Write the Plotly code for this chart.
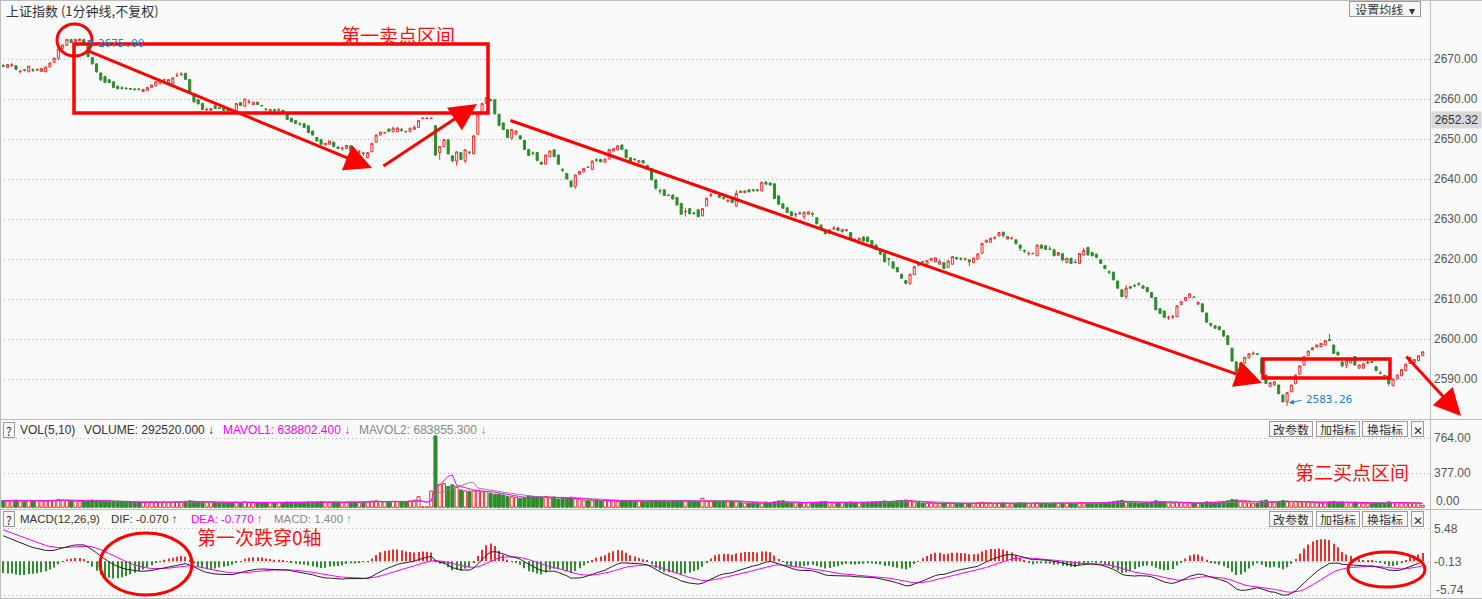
import plotly.graph_objects as go
import pandas as pd

W, H = 1482, 599

# ---------------- DATA ----------------
# previous trading day tail (102 one-minute bars)
prev_open = [
    2668.3, 2667.9, 2668.4, 2668.3, 2666.8, 2667.3, 2666.8, 2667.3, 2667.2, 2666.9,
    2666.8, 2668.0, 2669.1, 2670.2, 2672.7, 2673.4, 2674.9, 2674.3, 2674.6, 2674.9,
    2674.0, 2670.4, 2668.8, 2666.5, 2665.6, 2664.8, 2664.3, 2663.2, 2662.8, 2662.7,
    2662.6, 2662.5, 2662.5, 2661.9, 2662.2, 2662.9, 2663.3, 2663.8, 2664.7, 2664.1,
    2663.9, 2665.8, 2666.1, 2666.4, 2664.9, 2661.0, 2659.8, 2658.9, 2657.3, 2657.2,
    2658.3, 2657.8, 2657.6, 2657.3, 2657.3, 2657.1, 2659.1, 2658.2, 2659.2, 2658.6,
    2659.2, 2658.4, 2657.5, 2657.0, 2657.4, 2657.2, 2657.2, 2656.3, 2655.2, 2654.6,
    2653.8, 2653.8, 2653.3, 2652.0, 2650.4, 2649.9, 2648.5, 2648.7, 2649.2, 2648.0,
    2647.6, 2647.6, 2648.3, 2647.1, 2646.7, 2646.5, 2645.3, 2646.8, 2649.2, 2651.0,
    2651.5, 2652.5, 2651.8, 2651.8, 2652.3, 2651.9, 2651.8, 2652.4, 2652.9, 2655.1,
    2655.1, 2655.1]
prev_close = [
    2668.2, 2668.6, 2668.5, 2667.4, 2666.9, 2667.2, 2668.2, 2667.2, 2667.4, 2667.6,
    2668.0, 2669.0, 2670.2, 2672.5, 2673.5, 2674.9, 2674.1, 2674.9, 2675.0, 2674.1,
    2670.6, 2668.8, 2666.8, 2664.8, 2664.1, 2664.1, 2662.9, 2662.6, 2662.7, 2662.6,
    2662.5, 2662.4, 2662.4, 2662.4, 2662.9, 2663.5, 2664.3, 2664.6, 2664.8, 2664.9,
    2665.3, 2665.9, 2666.2, 2664.9, 2661.8, 2659.3, 2658.8, 2657.4, 2657.4, 2657.6,
    2657.6, 2657.7, 2657.1, 2657.1, 2657.1, 2658.9, 2658.4, 2660.0, 2659.3, 2659.2,
    2658.6, 2658.3, 2657.4, 2657.4, 2657.0, 2657.3, 2656.6, 2654.9, 2654.3, 2653.9,
    2653.7, 2652.9, 2651.6, 2651.0, 2649.5, 2648.7, 2648.9, 2649.5, 2648.1, 2647.6,
    2647.7, 2648.4, 2647.1, 2646.0, 2646.8, 2646.4, 2646.6, 2648.9, 2651.0, 2651.7,
    2651.6, 2651.9, 2652.7, 2652.7, 2652.2, 2651.8, 2652.7, 2652.9, 2654.6, 2655.2,
    2655.2, 2655.2]
prev_high = [
    2668.8, 2668.7, 2669.0, 2668.4, 2667.3, 2667.5, 2668.3, 2667.7, 2667.6, 2667.7,
    2668.1, 2669.1, 2670.4, 2672.6, 2673.6, 2675.0, 2675.0, 2675.0, 2675.0, 2675.0,
    2674.1, 2670.5, 2668.9, 2666.6, 2665.8, 2664.9, 2664.4, 2663.3, 2663.2, 2662.9,
    2662.7, 2662.8, 2662.6, 2662.5, 2663.0, 2663.6, 2664.4, 2664.7, 2665.1, 2665.0,
    2665.4, 2666.6, 2666.8, 2666.6, 2665.0, 2661.1, 2659.9, 2659.0, 2657.9, 2657.8,
    2658.4, 2657.9, 2657.7, 2657.4, 2657.5, 2659.0, 2659.2, 2660.1, 2659.9, 2659.3,
    2659.3, 2658.5, 2657.7, 2657.5, 2657.5, 2657.7, 2657.3, 2656.4, 2655.3, 2654.7,
    2654.2, 2653.9, 2653.4, 2652.1, 2650.5, 2650.0, 2649.0, 2649.6, 2649.3, 2648.1,
    2648.1, 2648.5, 2648.4, 2647.2, 2647.3, 2646.8, 2646.7, 2649.0, 2651.1, 2651.8,
    2651.7, 2652.6, 2653.1, 2653.0, 2652.8, 2652.0, 2652.8, 2653.4, 2654.7, 2655.2,
    2655.2, 2655.2]
prev_low = [
    2668.0, 2667.8, 2667.9, 2667.2, 2666.4, 2666.9, 2666.7, 2666.7, 2667.1, 2666.8,
    2666.7, 2667.9, 2669.0, 2669.7, 2672.5, 2673.3, 2674.0, 2674.2, 2674.5, 2673.9,
    2670.4, 2668.6, 2666.6, 2664.5, 2664.0, 2664.0, 2662.7, 2662.3, 2662.3, 2662.4,
    2662.3, 2662.1, 2662.1, 2661.8, 2662.1, 2662.8, 2663.2, 2663.7, 2664.4, 2664.0,
    2663.8, 2665.6, 2665.9, 2664.8, 2661.6, 2659.1, 2658.6, 2657.2, 2657.0, 2657.0,
    2657.5, 2657.5, 2657.0, 2656.9, 2656.9, 2657.0, 2658.3, 2658.1, 2658.8, 2658.5,
    2658.5, 2658.2, 2656.9, 2656.7, 2656.9, 2656.8, 2656.5, 2654.8, 2654.2, 2653.8,
    2653.3, 2652.8, 2651.5, 2650.9, 2649.4, 2648.6, 2648.4, 2648.6, 2647.9, 2647.5,
    2647.1, 2647.5, 2647.0, 2645.9, 2646.3, 2645.8, 2645.2, 2646.7, 2649.1, 2650.9,
    2651.4, 2651.8, 2651.7, 2651.7, 2651.8, 2651.7, 2651.7, 2652.3, 2652.8, 2655.1,
    2655.1, 2655.1]
prev_vol = [
    75, 68, 72, 80, 70, 66, 74, 70, 72, 68,
    70, 75, 78, 88, 82, 80, 72, 70, 66, 64,
    78, 80, 76, 70, 68, 64, 62, 60, 58, 56,
    58, 55, 54, 56, 58, 60, 62, 58, 60, 56,
    58, 62, 60, 66, 72, 68, 64, 62, 58, 55,
    56, 54, 52, 54, 50, 58, 55, 60, 56, 54,
    52, 50, 52, 50, 48, 50, 52, 58, 56, 55,
    52, 56, 60, 58, 60, 62, 58, 56, 58, 55,
    52, 56, 58, 60, 55, 58, 62, 68, 72, 66,
    60, 62, 66, 64, 60, 62, 70, 78, 118, 5,
    5, 180]

# current trading day (234 one-minute bars)
day_open = [
    2653.3, 2646.6, 2648.1, 2649.8, 2645.8, 2644.5, 2646.6, 2644.6, 2646.7, 2646.3,
    2651.2, 2656.6, 2658.9, 2659.8, 2659.8, 2656.2, 2654.0, 2652.3, 2650.2, 2651.2,
    2650.8, 2649.6, 2647.4, 2646.5, 2646.6, 2644.2, 2643.7, 2645.6, 2647.3, 2646.0,
    2642.3, 2641.4, 2639.5, 2638.1, 2641.2, 2641.8, 2643.0, 2642.4, 2644.8, 2644.9,
    2644.2, 2645.0, 2647.0, 2647.3, 2648.5, 2647.3, 2645.3, 2645.0, 2644.2, 2644.6,
    2643.4, 2642.6, 2639.8, 2637.1, 2637.3, 2636.0, 2636.0, 2635.4, 2633.9, 2631.8,
    2632.6, 2631.5, 2632.3, 2630.8, 2633.3, 2635.9, 2636.7, 2636.0, 2635.3, 2634.5,
    2634.8, 2633.3, 2637.0, 2636.6, 2637.3, 2637.3, 2637.3, 2637.0, 2639.2, 2639.0,
    2638.8, 2635.8, 2633.8, 2632.8, 2631.8, 2631.1, 2631.5, 2630.6, 2631.2, 2631.3,
    2630.3, 2628.5, 2627.4, 2626.4, 2627.6, 2627.8, 2626.8, 2627.3, 2626.6, 2624.8,
    2623.9, 2625.5, 2625.5, 2624.6, 2623.5, 2622.3, 2621.4, 2620.1, 2619.3, 2617.9,
    2616.2, 2614.6, 2613.9, 2616.1, 2618.6, 2619.4, 2618.7, 2619.7, 2619.3, 2618.7,
    2619.1, 2617.9, 2618.7, 2620.4, 2620.1, 2619.9, 2619.8, 2619.1, 2620.0, 2621.4,
    2624.2, 2624.2, 2625.2, 2625.8, 2626.7, 2625.0, 2625.1, 2624.8, 2623.5, 2622.1,
    2621.3, 2621.3, 2620.8, 2623.5, 2623.3, 2622.5, 2622.3, 2620.9, 2621.3, 2619.1,
    2620.2, 2619.2, 2618.9, 2621.0, 2622.9, 2621.6, 2621.2, 2619.8, 2618.4, 2616.8,
    2616.7, 2614.5, 2612.3, 2610.6, 2613.1, 2613.4, 2613.8, 2613.3, 2612.9, 2611.6,
    2610.4, 2607.6, 2607.0, 2605.3, 2605.5, 2605.6, 2608.6, 2609.6, 2610.4, 2610.5,
    2608.7, 2608.8, 2606.5, 2603.9, 2603.3, 2603.1, 2602.1, 2600.8, 2597.7, 2594.3,
    2591.2, 2594.0, 2595.3, 2596.3, 2596.3, 2595.2, 2591.0, 2588.1, 2588.5, 2588.5,
    2586.0, 2584.3, 2586.8, 2588.8, 2591.2, 2593.5, 2595.8, 2597.3, 2598.0, 2598.1,
    2598.5, 2599.9, 2598.5, 2596.7, 2594.3, 2593.5, 2594.0, 2595.6, 2592.7, 2592.7,
    2594.0, 2594.3, 2593.1, 2591.5, 2590.9, 2590.8, 2588.3, 2590.0, 2590.8, 2592.1,
    2593.9, 2594.1, 2594.6, 2595.8]
day_close = [
    2646.0, 2648.1, 2649.9, 2646.3, 2644.5, 2646.8, 2644.9, 2647.3, 2646.6, 2650.8,
    2656.0, 2658.9, 2660.3, 2659.7, 2656.3, 2653.4, 2652.4, 2650.4, 2652.4, 2652.0,
    2650.0, 2647.4, 2645.9, 2646.4, 2644.6, 2643.7, 2646.0, 2647.0, 2645.6, 2643.7,
    2642.2, 2640.0, 2638.1, 2641.0, 2641.9, 2642.6, 2642.9, 2644.5, 2644.7, 2644.3,
    2645.0, 2647.4, 2647.6, 2648.3, 2647.4, 2645.3, 2644.5, 2644.9, 2644.6, 2644.0,
    2643.0, 2639.8, 2637.7, 2637.0, 2635.9, 2635.9, 2635.0, 2633.5, 2631.2, 2631.9,
    2631.3, 2631.4, 2630.6, 2632.6, 2635.2, 2636.0, 2636.6, 2635.4, 2635.2, 2634.6,
    2634.1, 2636.4, 2636.6, 2637.0, 2636.8, 2637.2, 2637.2, 2639.2, 2638.7, 2638.5,
    2635.1, 2633.7, 2632.7, 2631.6, 2630.8, 2631.2, 2631.4, 2631.7, 2631.8, 2631.2,
    2628.8, 2627.5, 2626.3, 2627.3, 2627.7, 2627.1, 2627.4, 2627.2, 2625.2, 2624.7,
    2625.2, 2624.5, 2624.3, 2623.1, 2622.4, 2621.2, 2619.3, 2620.0, 2617.7, 2616.8,
    2615.2, 2613.9, 2616.2, 2618.1, 2618.5, 2619.3, 2619.6, 2620.1, 2620.3, 2619.3,
    2617.6, 2619.5, 2620.6, 2620.0, 2620.0, 2620.0, 2619.3, 2620.2, 2621.3, 2623.9,
    2624.7, 2625.2, 2625.3, 2626.6, 2625.9, 2625.6, 2625.2, 2623.8, 2622.7, 2622.0,
    2621.4, 2621.4, 2623.5, 2622.7, 2622.4, 2622.4, 2620.8, 2621.6, 2619.8, 2620.2,
    2618.9, 2619.1, 2621.4, 2622.1, 2621.0, 2620.8, 2620.4, 2618.9, 2617.6, 2616.7,
    2614.8, 2612.7, 2610.6, 2612.7, 2612.7, 2613.3, 2613.7, 2612.7, 2611.8, 2610.4,
    2607.3, 2606.4, 2605.4, 2605.4, 2605.6, 2608.3, 2609.3, 2610.4, 2611.3, 2610.4,
    2609.2, 2606.8, 2604.2, 2603.5, 2602.7, 2602.3, 2600.7, 2598.6, 2594.5, 2591.8,
    2594.0, 2595.4, 2596.3, 2596.4, 2596.2, 2591.4, 2588.9, 2589.1, 2589.3, 2586.3,
    2584.3, 2586.6, 2588.5, 2591.0, 2593.3, 2595.6, 2597.0, 2597.8, 2598.5, 2598.9,
    2599.6, 2599.6, 2596.4, 2596.0, 2593.3, 2594.5, 2595.0, 2593.5, 2593.5, 2593.8,
    2594.1, 2594.2, 2592.1, 2591.4, 2590.8, 2588.9, 2590.0, 2591.0, 2592.4, 2593.7,
    2595.4, 2594.9, 2595.8, 2596.8]
day_high = [
    2653.5, 2648.2, 2650.0, 2649.9, 2645.9, 2646.9, 2646.7, 2647.4, 2647.0, 2650.9,
    2656.1, 2659.0, 2660.5, 2660.1, 2659.9, 2656.3, 2654.1, 2652.4, 2652.5, 2652.1,
    2650.9, 2649.7, 2647.5, 2646.9, 2646.7, 2644.3, 2646.1, 2647.1, 2647.4, 2646.1,
    2642.8, 2641.5, 2639.6, 2641.1, 2642.0, 2642.7, 2643.1, 2644.6, 2645.2, 2645.0,
    2645.1, 2647.5, 2647.7, 2648.4, 2648.6, 2647.4, 2645.4, 2645.1, 2644.7, 2644.7,
    2643.5, 2642.7, 2639.9, 2637.6, 2637.4, 2636.1, 2636.1, 2635.5, 2634.0, 2632.7,
    2632.7, 2631.8, 2632.4, 2632.7, 2635.3, 2636.6, 2637.1, 2636.1, 2635.6, 2635.0,
    2634.9, 2637.2, 2637.1, 2637.1, 2637.4, 2637.5, 2637.5, 2639.3, 2639.5, 2639.1,
    2638.9, 2635.9, 2633.9, 2632.9, 2631.9, 2631.6, 2631.9, 2631.8, 2631.9, 2631.8,
    2630.4, 2628.6, 2627.5, 2627.4, 2628.2, 2627.9, 2627.5, 2627.4, 2626.7, 2625.3,
    2625.3, 2625.6, 2625.6, 2624.7, 2623.6, 2622.4, 2621.5, 2620.2, 2619.4, 2618.0,
    2616.3, 2614.7, 2616.3, 2618.2, 2619.0, 2619.5, 2619.7, 2620.3, 2620.4, 2619.9,
    2619.2, 2619.6, 2620.7, 2620.5, 2620.4, 2620.4, 2619.9, 2620.3, 2621.4, 2624.0,
    2624.8, 2625.3, 2625.7, 2626.7, 2626.8, 2625.7, 2625.5, 2624.9, 2623.6, 2622.4,
    2621.9, 2621.5, 2623.6, 2623.6, 2623.4, 2623.3, 2622.4, 2621.7, 2621.4, 2620.3,
    2620.3, 2619.9, 2621.5, 2622.8, 2623.0, 2621.7, 2621.3, 2619.9, 2618.5, 2617.2,
    2616.8, 2614.6, 2612.4, 2613.5, 2613.2, 2613.8, 2614.2, 2613.4, 2613.0, 2611.7,
    2610.5, 2607.7, 2607.1, 2605.9, 2606.1, 2608.4, 2609.4, 2610.5, 2611.4, 2610.6,
    2609.3, 2608.9, 2606.6, 2604.0, 2603.4, 2603.2, 2602.2, 2600.9, 2597.8, 2594.4,
    2594.1, 2595.5, 2596.4, 2596.9, 2596.4, 2595.3, 2591.1, 2589.2, 2589.4, 2588.6,
    2586.1, 2586.7, 2588.6, 2591.1, 2593.4, 2595.7, 2597.1, 2597.9, 2598.6, 2599.0,
    2599.7, 2601.3, 2598.6, 2596.8, 2594.4, 2594.8, 2595.1, 2595.7, 2593.6, 2593.9,
    2594.6, 2594.6, 2593.2, 2592.0, 2591.0, 2590.9, 2590.1, 2591.1, 2592.5, 2593.8,
    2595.5, 2595.0, 2595.9, 2596.9]
day_low = [
    2645.8, 2644.8, 2648.0, 2646.1, 2644.3, 2643.3, 2644.7, 2643.9, 2646.2, 2646.2,
    2651.1, 2656.5, 2658.8, 2659.3, 2656.1, 2653.2, 2652.3, 2650.3, 2649.8, 2651.1,
    2649.9, 2647.3, 2645.8, 2645.9, 2644.5, 2643.6, 2643.6, 2645.5, 2645.5, 2643.6,
    2641.8, 2639.9, 2637.8, 2637.6, 2641.1, 2641.7, 2642.8, 2642.3, 2644.3, 2644.2,
    2644.1, 2644.9, 2646.9, 2647.2, 2647.3, 2645.2, 2644.4, 2644.5, 2644.1, 2643.9,
    2642.9, 2639.7, 2637.3, 2636.2, 2635.8, 2635.8, 2634.9, 2633.4, 2631.1, 2630.6,
    2631.2, 2631.0, 2630.4, 2630.7, 2633.2, 2635.4, 2636.2, 2635.3, 2634.8, 2634.1,
    2634.0, 2633.0, 2636.5, 2636.5, 2636.7, 2636.8, 2636.8, 2636.9, 2638.6, 2638.4,
    2635.0, 2633.6, 2632.6, 2631.5, 2630.7, 2630.4, 2631.0, 2630.0, 2631.1, 2630.6,
    2628.7, 2627.4, 2626.2, 2626.3, 2627.2, 2627.0, 2626.7, 2626.8, 2625.1, 2624.2,
    2623.8, 2624.4, 2624.2, 2623.0, 2622.3, 2621.1, 2619.2, 2618.3, 2617.6, 2616.7,
    2615.1, 2613.7, 2613.5, 2616.0, 2618.1, 2618.7, 2618.6, 2619.6, 2619.2, 2618.6,
    2617.5, 2617.8, 2618.6, 2619.9, 2619.6, 2619.6, 2618.2, 2619.0, 2619.9, 2621.3,
    2624.1, 2624.1, 2624.9, 2625.7, 2625.4, 2624.9, 2624.9, 2623.7, 2622.0, 2621.5,
    2620.9, 2621.3, 2620.7, 2622.6, 2622.3, 2622.3, 2620.7, 2620.8, 2619.4, 2619.0,
    2618.8, 2619.0, 2618.8, 2620.9, 2620.9, 2620.7, 2620.3, 2618.8, 2617.5, 2616.2,
    2614.7, 2612.6, 2610.5, 2610.0, 2612.6, 2612.9, 2613.3, 2612.6, 2611.7, 2610.3,
    2607.2, 2606.3, 2605.3, 2604.8, 2605.0, 2605.5, 2608.5, 2609.5, 2610.3, 2610.3,
    2608.6, 2606.7, 2604.0, 2603.0, 2602.6, 2602.2, 2600.6, 2598.5, 2594.4, 2591.6,
    2591.1, 2593.9, 2595.2, 2596.0, 2596.1, 2591.3, 2588.8, 2588.0, 2588.4, 2586.2,
    2584.2, 2583.26, 2586.7, 2588.7, 2591.1, 2593.4, 2595.7, 2597.2, 2597.9, 2598.0,
    2598.4, 2599.5, 2596.3, 2595.9, 2592.9, 2592.7, 2593.9, 2593.4, 2592.6, 2592.6,
    2593.7, 2593.9, 2592.0, 2591.3, 2590.7, 2588.2, 2588.2, 2589.9, 2590.7, 2592.0,
    2593.8, 2594.0, 2594.5, 2595.7]
day_vol = [
    790, 255, 262, 230, 248, 220, 192, 182, 178, 182,
    190, 172, 175, 155, 145, 145, 136, 118, 118, 112,
    100, 107, 125, 118, 112, 110, 120, 104, 112, 92,
    100, 102, 112, 100, 90, 80, 74, 72, 82, 70,
    74, 72, 70, 64, 74, 70, 76, 70, 70, 68,
    64, 72, 76, 70, 72, 68, 74, 74, 76, 70,
    74, 68, 64, 100, 70, 68, 74, 68, 70, 72,
    64, 66, 56, 46, 44, 44, 46, 50, 55, 44,
    60, 70, 72, 58, 55, 52, 46, 50, 52, 48,
    56, 62, 64, 52, 48, 46, 50, 48, 58, 52,
    48, 54, 56, 60, 62, 64, 70, 62, 66, 72,
    76, 80, 70, 60, 52, 48, 44, 46, 44, 42,
    50, 46, 48, 44, 42, 40, 44, 46, 50, 56,
    52, 48, 44, 48, 50, 44, 40, 46, 50, 48,
    42, 40, 50, 46, 44, 40, 48, 42, 46, 44,
    46, 40, 52, 50, 48, 46, 44, 50, 54, 58,
    62, 70, 76, 66, 58, 50, 46, 48, 54, 60,
    72, 66, 62, 50, 46, 56, 52, 48, 46, 42,
    44, 52, 60, 58, 56, 60, 64, 72, 84, 82,
    70, 56, 50, 46, 42, 72, 80, 60, 52, 66,
    74, 70, 62, 60, 58, 62, 56, 52, 48, 46,
    50, 62, 66, 58, 60, 52, 48, 56, 46, 44,
    42, 44, 50, 48, 46, 60, 54, 50, 48, 46,
    50, 44, 48, 22]

# indicator state carried in from before the first visible bar
ema12_start, ema26_start, dea_start = 2668.2, 2663.6, 5.5

price_ticks = [2590, 2600, 2610, 2620, 2630, 2640, 2650, 2660, 2670]
vol_ticks = [377, 764]
macd_ticks = [5.48, -0.13]

# ---------------- derived series ----------------
opens = prev_open + day_open
closes = prev_close + day_close
highs = prev_high + day_high
lows = prev_low + day_low
vols = prev_vol + day_vol
N = len(closes)
x = list(range(N))

ma5 = pd.Series(vols).rolling(5, min_periods=1).mean().tolist()
ma10 = pd.Series(vols).rolling(10, min_periods=1).mean().tolist()

e12, e26, dea = ema12_start, ema26_start, dea_start
difs, deas, hist = [], [], []
for c in closes:
    e12 = e12 * 11 / 13 + c * 2 / 13
    e26 = e26 * 25 / 27 + c * 2 / 27
    d = e12 - e26
    dea = dea * 8 / 10 + d * 2 / 10
    difs.append(d)
    deas.append(dea)
    hist.append(2 * (d - dea))

RED = "#ee2c2c"
GREEN = "#2e8b2e"
BG = "#fafafa"
GRID = "#b4b4b4"
MAG = "#ff00ff"
up = [c >= o for o, c in zip(opens, closes)]

fig = go.Figure()
fig.add_trace(go.Candlestick(
    x=x, open=opens, high=highs, low=lows, close=closes,
    increasing=dict(line=dict(color=RED, width=1), fillcolor=BG),
    decreasing=dict(line=dict(color=GREEN, width=1), fillcolor=GREEN),
    whiskerwidth=0, showlegend=False, hoverinfo="skip", yaxis="y"))

fig.add_trace(go.Bar(
    x=x, y=vols, width=0.72, yaxis="y2", showlegend=False, hoverinfo="skip",
    marker=dict(color=[BG if u else GREEN for u in up],
                line=dict(color=[RED if u else GREEN for u in up], width=1))))
fig.add_trace(go.Scatter(x=x, y=ma10, yaxis="y2", mode="lines",
                         line=dict(color="#8c8c8c", width=1), showlegend=False, hoverinfo="skip"))
fig.add_trace(go.Scatter(x=x, y=ma5, yaxis="y2", mode="lines",
                         line=dict(color=MAG, width=1), showlegend=False, hoverinfo="skip"))

fig.add_trace(go.Bar(
    x=x, y=hist, width=0.24, yaxis="y3", showlegend=False, hoverinfo="skip",
    marker=dict(color=[RED if h >= 0 else GREEN for h in hist], line=dict(width=0))))
fig.add_trace(go.Scatter(x=x, y=deas, yaxis="y3", mode="lines",
                         line=dict(color=MAG, width=1), showlegend=False, hoverinfo="skip"))
fig.add_trace(go.Scatter(x=x, y=difs, yaxis="y3", mode="lines",
                         line=dict(color="#222222", width=1), showlegend=False, hoverinfo="skip"))

# ---------------- layout ----------------
def PX(px):
    return px / W

def PY(py):
    return 1 - py / H

SPACING = 4.237  # px per bar
X0 = 3.3        # px position of first bar
xr = [-X0 / SPACING, (1430 - X0) / SPACING]

tickfont = dict(family="Liberation Sans, Arial", size=12, color="#555555")
axis_common = dict(side="right", anchor="x", showgrid=True, gridcolor=GRID, griddash="1px,3px",
                   gridwidth=1, zeroline=False, showline=False, ticks="",
                   tickfont=tickfont, ticklabelstandoff=3, fixedrange=True)

fig.update_layout(
    width=W, height=H, autosize=False,
    margin=dict(l=0, r=0, t=0, b=0),
    paper_bgcolor=BG, plot_bgcolor=BG,
    barmode="overlay", boxgap=0.3,
    xaxis=dict(domain=[0, PX(1430)], range=xr, showticklabels=False, showgrid=False,
               zeroline=False, showline=False, rangeslider=dict(visible=False), fixedrange=True),
    yaxis=dict(domain=[PY(418), 1], range=[2580.25, 2684.75],
               tickvals=price_ticks, ticktext=[f"{v:.2f}" for v in price_ticks], **axis_common),
    yaxis2=dict(domain=[PY(508), PY(420)], range=[-7.7, 965.7],
                tickvals=vol_ticks, ticktext=[f"{v:.2f}" for v in vol_ticks], **axis_common),
    yaxis3=dict(domain=[PY(598), PY(510)], range=[-6.16, 8.58],
                tickvals=macd_ticks + [-5.74], ticktext=[f"{v:.2f}" for v in macd_ticks] + [""],
                **axis_common),
)

shapes = []
line_gray = dict(color="#bdbdbd", width=1)
for yy in (0.5, 419.5, 509.5, 598.5):
    shapes.append(dict(type="line", xref="paper", yref="paper", x0=0, x1=1,
                       y0=PY(yy), y1=PY(yy), line=line_gray))
shapes.append(dict(type="line", xref="paper", yref="paper", x0=PX(1430.5), x1=PX(1430.5),
                   y0=0, y1=1, line=line_gray))
shapes.append(dict(type="line", xref="paper", yref="paper", x0=PX(0.5), x1=PX(0.5),
                   y0=0, y1=1, line=line_gray))

redline = dict(color="#ff0000", width=3)
shapes += [
    dict(type="circle", xref="paper", yref="paper", x0=PX(57), x1=PX(92), y0=PY(24), y1=PY(56), line=redline),
    dict(type="rect", xref="paper", yref="paper", x0=PX(74), x1=PX(488), y0=PY(44), y1=PY(113),
         line=dict(color="#ff0000", width=3.5)),
    dict(type="rect", xref="paper", yref="paper", x0=PX(1263), x1=PX(1390), y0=PY(359), y1=PY(378),
         line=dict(color="#ff0000", width=3.5)),
    dict(type="circle", xref="paper", yref="paper", x0=PX(100), x1=PX(192), y0=PY(533), y1=PY(595), line=redline),
    dict(type="circle", xref="paper", yref="paper", x0=PX(1348), x1=PX(1425), y0=PY(552), y1=PY(587), line=redline),
]
fig.update_layout(shapes=shapes)

ann = []
def text(px, py, s, color="#333333", size=12, family="Liberation Sans, Arial", xanchor="left", **kw):
    ann.append(dict(x=PX(px), y=PY(py), xref="paper", yref="paper", text=s, showarrow=False,
                    xanchor=xanchor, yanchor="middle", font=dict(color=color, size=size, family=family), **kw))

def button(cx, cy, s, w):
    ann.append(dict(x=PX(cx), y=PY(cy), xref="paper", yref="paper", text=s, showarrow=False,
                    xanchor="center", yanchor="middle", width=w, height=12, borderpad=1,
                    bordercolor="#9a9a9a", borderwidth=1, bgcolor="#f7f7f7",
                    font=dict(color="#333333", size=12, family="Noto Sans CJK SC")))

def arrow(tx, ty, hx, hy, color="#ff0000", width=3, size=1.8, head=2):
    ann.append(dict(x=PX(hx), y=PY(hy), xref="paper", yref="paper", text="", showarrow=True,
                    ax=tx - hx, ay=ty - hy, axref="pixel", ayref="pixel",
                    arrowcolor=color, arrowwidth=width, arrowsize=size, arrowhead=head, standoff=0))

CJK = "Noto Sans CJK SC"
text(4, 10, "上证指数 (1分钟线,不复权)", family=CJK, size=13, color="#333333")
button(1385, 9, "设置均线  ▾", 68)

# volume header
button(8.5, 430, "?", 8)
text(18, 430, "VOL(5,10)")
text(82, 430, "VOLUME: 292520.000 ↓")
text(221, 430, "MAVOL1: 638802.400 ↓", color=MAG)
text(357, 430, "MAVOL2: 683855.300 ↓", color="#888888")
# macd header
button(8.5, 519, "?", 8)
text(18, 519, "MACD(12,26,9)", size=11.5)
text(109, 519, "DIF: -0.070 ↑", size=11.5)
text(189, 519, "DEA: -0.770 ↑", color=MAG, size=11.5)
text(272, 519, "MACD: 1.400 ↑", color="#888888", size=11.5)

for yy in (429, 519):
    button(1291, yy, "改参数", 40)
    button(1338, yy, "加指标", 40)
    button(1385, yy, "换指标", 42)
    button(1417.5, yy, "✕", 9)

# clamped axis labels at pane bottoms
text(1434, 501, "0.00", color="#555555")
text(1434, 590, "-5.74", color="#555555")
# current-price box
ann.append(dict(x=PX(1431), y=PY(120), xref="paper", yref="paper", text="2652.32", showarrow=False,
                xanchor="left", yanchor="middle", bgcolor="#d9d9d9", width=47, height=14,
                font=dict(color="#333333", size=12, family="Liberation Sans, Arial")))

# red notes
text(398, 35, "第一卖点区间", color="#ff1010", size=19, family=CJK, xanchor="center")
text(1352, 471, "第二买点区间", color="#ff1010", size=19, family=CJK, xanchor="center")
text(259, 536, "第一次跌穿0轴", color="#ff1010", size=19, family=CJK, xanchor="center")

arrow(86, 50, 372, 168)
arrow(382, 167, 477, 104)
arrow(509, 120, 1262, 383)
arrow(1405, 355, 1461, 416)

# blue extremes
BLUE = "#1c7ed6"
text(96, 43, "2675.00", color=BLUE, size=11, family="DejaVu Sans Mono")
arrow(96, 44, 87, 40, color=BLUE, width=1, size=1, head=2)
text(1304, 399, "2583.26", color=BLUE, size=11, family="DejaVu Sans Mono")
arrow(1303, 400, 1289, 403, color=BLUE, width=1, size=1, head=2)

fig.update_layout(annotations=ann)

fig.write_html("out.html")
